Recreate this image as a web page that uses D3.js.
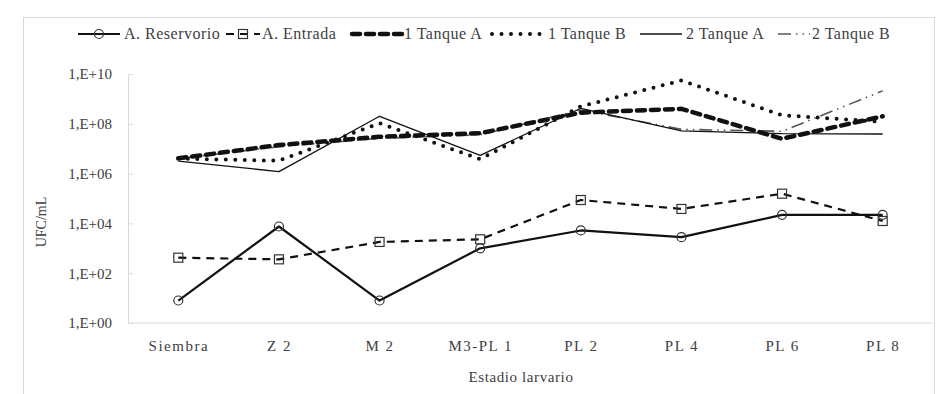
<!DOCTYPE html>
<html>
<head>
<meta charset="utf-8">
<script src="https://cdn.jsdelivr.net/npm/d3@7"></script>
<style>
  html, body { margin: 0; padding: 0; background: #fff; }
  svg text { fill: #404040; }
</style>
</head>
<body>
<svg id="chart" width="938" height="394"></svg>
<script>
// Larval stages along the x axis
const stages = ["Siembra", "Z 2", "M 2", "M3-PL 1", "PL 2", "PL 4", "PL 6", "PL 8"];

// Bacterial counts (UFC/mL) per sampling point
const reservorio = [8, 7500, 8, 1000, 5200, 2800, 22000, 22000];
const entrada    = [420, 360, 1800, 2300, 87000, 38000, 156000, 12500];
const tanque1A   = [4.1e6, 1.4e7, 3.0e7, 4.2e7, 2.8e8, 4.0e8, 2.5e7, 2.0e8];
const tanque1B   = [4.0e6, 3.3e6, 1.05e8, 3.8e6, 5.0e8, 5.5e9, 2.2e8, 1.2e8];
const tanque2A   = [3.2e6, 1.2e6, 2.0e8, 5.4e6, 4.2e8, 5.2e7, 4.0e7, 3.9e7];
const tanque2B   = [4.0e6, 1.2e7, 2.6e7, 3.6e7, 3.6e8, 6.0e7, 5.0e7, 2.1e9];

// Log-axis tick values and their labels
const yTicks = [1, 1e2, 1e4, 1e6, 1e8, 1e10];
const yTickLabels = ["1,E+00", "1,E+02", "1,E+04", "1,E+06", "1,E+08", "1,E+10"];

const seriesNames = ["A. Reservorio", "A. Entrada", "1 Tanque A", "1 Tanque B", "2 Tanque A", "2 Tanque B"];
const seriesValues = [reservorio, entrada, tanque1A, tanque1B, tanque2A, tanque2B];

const styles = [
  { width: 2.2, dash: "none", color: "#111", cap: "butt", marker: "circle" },
  { width: 2.2, dash: "8,6", color: "#111", cap: "butt", marker: "square" },
  { width: 4.5, dash: "8,6", color: "#111", cap: "round", marker: null },
  { width: 4, dash: "0,9.5", color: "#111", cap: "round", marker: null },
  { width: 1.3, dash: "none", color: "#111", cap: "butt", marker: null },
  { width: 1.6, dash: "13,5,1.5,5,1.5,5", color: "#555", cap: "butt", marker: null }
];

const FONT = "Liberation Serif";
const svg = d3.select("#chart");

// chart frame
svg.append("rect")
  .attr("x", 23.5).attr("y", 17.5)
  .attr("width", 911).attr("height", 390)
  .attr("fill", "none").attr("stroke", "#d9d9d9").attr("stroke-width", 1);

const plot = { left: 128, right: 933, top: 74, bottom: 323 };

const x = d3.scalePoint()
  .domain(stages)
  .range([plot.left, plot.right])
  .padding(0.5);

const y = d3.scaleLog()
  .domain([1, 1e10])
  .range([plot.bottom, plot.top]);

// y axis
const yAxis = d3.axisLeft(y)
  .tickValues(yTicks)
  .tickFormat((d, i) => yTickLabels[i])
  .tickSize(-5)
  .tickPadding(16);

const gy = svg.append("g")
  .attr("transform", `translate(${plot.left},0)`)
  .call(yAxis)
  .attr("font-family", FONT);
gy.select(".domain").attr("stroke", "#d9d9d9");
gy.selectAll(".tick line").attr("stroke", "#d9d9d9");
gy.selectAll(".tick text")
  .attr("font-size", 15)
  .attr("fill", "#404040")
  .attr("font-family", FONT);

// x axis
const xAxis = d3.axisBottom(x).tickSize(0).tickPadding(17);
const gx = svg.append("g")
  .attr("transform", `translate(0,${plot.bottom})`)
  .call(xAxis)
  .attr("font-family", FONT);
gx.select(".domain").attr("stroke", "#d9d9d9").attr("d", `M${plot.left},0H${plot.right}`);
gx.selectAll(".tick text")
  .attr("font-size", 15)
  .attr("fill", "#404040")
  .attr("letter-spacing", "1.5px")
  .attr("font-family", FONT);

// axis titles
svg.append("text")
  .attr("x", 521)
  .attr("y", 382)
  .attr("text-anchor", "middle")
  .attr("font-size", 15)
  .attr("letter-spacing", "0.6px")
  .attr("font-family", FONT)
  .text("Estadio larvario");

svg.append("text")
  .attr("transform", "translate(46,222) rotate(-90)")
  .attr("text-anchor", "middle")
  .attr("font-size", 14)
  .attr("font-family", FONT)
  .text("UFC/mL");

// series lines
const line = d3.line()
  .x((d, i) => x(stages[i]))
  .y(d => y(d));

const drawOrder = [5, 4, 3, 2, 1, 0];
drawOrder.forEach(k => {
  const s = styles[k];
  svg.append("path")
    .datum(seriesValues[k])
    .attr("d", line)
    .attr("fill", "none")
    .attr("stroke", s.color)
    .attr("stroke-width", s.width)
    .attr("stroke-dasharray", s.dash)
    .attr("stroke-linecap", s.cap)
    .attr("stroke-linejoin", "round");

  if (s.marker === "circle") {
    svg.append("g").selectAll("circle")
      .data(seriesValues[k])
      .join("circle")
      .attr("cx", (d, i) => x(stages[i]))
      .attr("cy", d => y(d))
      .attr("r", 4.5)
      .attr("fill", "none")
      .attr("stroke", "#333")
      .attr("stroke-width", 1.2);
  } else if (s.marker === "square") {
    svg.append("g").selectAll("rect")
      .data(seriesValues[k])
      .join("rect")
      .attr("x", (d, i) => x(stages[i]) - 4.5)
      .attr("y", d => y(d) - 4.5)
      .attr("width", 9)
      .attr("height", 9)
      .attr("fill", "none")
      .attr("stroke", "#333")
      .attr("stroke-width", 1.2);
  }
});

// legend
const legendItems = [
  { sx: 78, sw: 42, tx: 124 },
  { sx: 226, sw: 34, tx: 262 },
  { sx: 352, sw: 50, tx: 404 },
  { sx: 492, sw: 52, tx: 548 },
  { sx: 640, sw: 42, tx: 686 },
  { sx: 778, sw: 32, tx: 812 }
];
const ly = 34;
const legend = svg.append("g");
legendItems.forEach((it, k) => {
  const s = styles[k];
  legend.append("line")
    .attr("x1", it.sx).attr("x2", it.sx + it.sw)
    .attr("y1", ly).attr("y2", ly)
    .attr("stroke", s.color)
    .attr("stroke-width", s.width)
    .attr("stroke-dasharray", s.dash)
    .attr("stroke-linecap", s.cap);
  const mx = it.sx + it.sw / 2;
  if (s.marker === "circle") {
    legend.append("circle").attr("cx", mx).attr("cy", ly).attr("r", 4.5)
      .attr("fill", "none").attr("stroke", "#333").attr("stroke-width", 1.2);
  } else if (s.marker === "square") {
    legend.append("rect").attr("x", mx - 4.5).attr("y", ly - 4.5).attr("width", 9).attr("height", 9)
      .attr("fill", "none").attr("stroke", "#333").attr("stroke-width", 1.2);
  }
  legend.append("text")
    .attr("x", it.tx).attr("y", ly + 5)
    .attr("font-size", 16)
    .attr("letter-spacing", "0.5px")
    .attr("font-family", FONT)
    .text(seriesNames[k]);
});
</script>
</body>
</html>
